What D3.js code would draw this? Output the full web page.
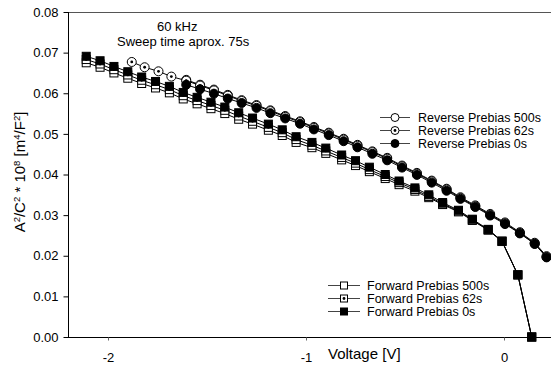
<!DOCTYPE html>
<html>
<head>
<meta charset="utf-8">
<script src="https://cdn.jsdelivr.net/npm/d3@7"></script>
<style>
  body { margin: 0; background: #fff; }
  svg { display: block; font-family: "Liberation Sans", Arial, sans-serif; }
</style>
</head>
<body>
<div id="chart"></div>
<script>
// Voltage sweep values
const forwardV = [-2.11, -2.04, -1.97, -1.90, -1.83, -1.76, -1.69, -1.62, -1.55, -1.48, -1.41, -1.34,
    -1.27, -1.19, -1.12, -1.05, -0.97, -0.90, -0.82, -0.75, -0.68, -0.60,
    -0.53, -0.45, -0.38, -0.31, -0.23, -0.16, -0.08, -0.01, 0.07, 0.14];
const forward500 = [0.0675, 0.0664, 0.0650, 0.0637, 0.0624, 0.0613, 0.0601, 0.0586, 0.0574, 0.0562, 0.0550, 0.0536,
    0.0524, 0.0509, 0.0496, 0.0479, 0.0466, 0.0452, 0.0436, 0.0422, 0.0407, 0.0390,
    0.0375, 0.0359, 0.0343, 0.0326, 0.0308, 0.0287, 0.0263, 0.0235, 0.0153, 0.0000];
const forward62 = [0.0683, 0.0672, 0.0658, 0.0645, 0.0632, 0.0621, 0.0609, 0.0594, 0.0582, 0.0570, 0.0558, 0.0544,
    0.0531, 0.0516, 0.0503, 0.0486, 0.0472, 0.0458, 0.0442, 0.0428, 0.0412, 0.0395,
    0.0380, 0.0363, 0.0346, 0.0328, 0.0310, 0.0288, 0.0264, 0.0236, 0.0153, 0.0000];
const forward0 = [0.0691, 0.0680, 0.0666, 0.0653, 0.0640, 0.0629, 0.0617, 0.0602, 0.0590, 0.0578, 0.0566, 0.0552,
    0.0539, 0.0524, 0.0510, 0.0493, 0.0479, 0.0465, 0.0448, 0.0434, 0.0418, 0.0400,
    0.0384, 0.0367, 0.0350, 0.0331, 0.0312, 0.0290, 0.0265, 0.0236, 0.0153, 0.0000];

const reverseV = [-1.88, -1.815, -1.745, -1.68, -1.605, -1.535, -1.465, -1.395,
    -1.325, -1.25, -1.18, -1.105, -1.03, -0.96, -0.885, -0.81, -0.74, -0.665, -0.59,
    -0.515, -0.44, -0.365, -0.29, -0.22, -0.145, -0.07, 0.005, 0.08, 0.155, 0.215];
const reverse500 = [null, null, null, null, 0.0633, 0.0621, 0.0609, 0.0596,
    0.0583, 0.0571, 0.0558, 0.0544, 0.0531, 0.0517, 0.0503, 0.0488, 0.0473, 0.0457, 0.0441,
    0.0422, 0.0404, 0.0385, 0.0365, 0.0344, 0.0324, 0.0303, 0.0282, 0.0258, 0.0232, 0.0199];
const reverse62 = [0.0677, 0.0664, 0.0654, 0.0641, 0.0631, 0.0619, 0.0607, 0.0594,
    0.0581, 0.0569, 0.0556, 0.0542, 0.0529, 0.0515, 0.0501, 0.0486, 0.0471, 0.0455, 0.0439,
    0.0420, 0.0402, 0.0383, 0.0363, 0.0342, 0.0322, 0.0301, 0.0280, 0.0256, 0.0230, 0.0197];
const reverse0 = [null, null, null, null, 0.0621, 0.0610, 0.0599, 0.0587,
    0.0576, 0.0564, 0.0551, 0.0538, 0.0525, 0.0511, 0.0497, 0.0482, 0.0467, 0.0451, 0.0435,
    0.0417, 0.0399, 0.0380, 0.0360, 0.0340, 0.0320, 0.0299, 0.0278, 0.0255, 0.0229, 0.0196];

const xTicks = [-2, -1, 0];
const yTicks = [0, 0.01, 0.02, 0.03, 0.04, 0.05, 0.06, 0.07, 0.08];

const W = 551, H = 369;
const plotLeft = 68, plotRight = 553, plotTop = 12, plotBottom = 337;

const svg = d3.select('#chart').append('svg')
    .attr('width', W)
    .attr('height', H);

const x = d3.scaleLinear().domain([-2, 0]).range([108, 504]);
const y = d3.scaleLinear().domain([0, 0.08]).range([plotBottom, plotTop]);

// top frame line
svg.append('line')
    .attr('x1', plotLeft).attr('x2', plotRight)
    .attr('y1', plotTop + 0.5).attr('y2', plotTop + 0.5)
    .style('stroke', '#555');

// axes
const yAxis = svg.append('g')
    .attr('transform', `translate(${plotLeft + 0.5},0)`)
    .call(d3.axisLeft(y).tickValues(yTicks).tickFormat(d3.format('.2f')).tickSize(5).tickPadding(5));
yAxis.select('.domain').attr('d', `M0,${plotTop}V${plotBottom + 0.5}`);

const xAxis = svg.append('g')
    .attr('transform', `translate(0,${plotBottom + 0.5})`)
    .call(d3.axisBottom(x).tickValues(xTicks).tickFormat(d => String(d)).tickSize(3).tickPadding(12));
xAxis.select('.domain').attr('d', `M${plotLeft},0H${plotRight}`);
xAxis.selectAll('.tick line').style('stroke', '#666');

svg.selectAll('.tick text')
    .style('font-size', '13px')
    .style('font-family', '"Liberation Sans", Arial, sans-serif')
    .attr('fill', '#000');

// axis titles
svg.append('text')
    .attr('x', 328).attr('y', 359)
    .style('font-size', '15px')
    .text('Voltage [V]');

const yt = svg.append('text')
    .attr('transform', 'translate(25,172) rotate(-90)')
    .attr('text-anchor', 'middle')
    .style('font-size', '15px');
const sup = (t) => yt.append('tspan').attr('baseline-shift', 'super').style('font-size', '9.5px').text(t);
yt.append('tspan').text('A');
sup('2');
yt.append('tspan').text('/C');
sup('2');
yt.append('tspan').text(' * 10');
sup('8');
yt.append('tspan').text(' [m');
sup('4');
yt.append('tspan').text('/F');
sup('2');
yt.append('tspan').text(']');

// annotation
svg.append('text').attr('x', 157).attr('y', 31).style('font-size', '13px').text('60 kHz');
svg.append('text').attr('x', 117).attr('y', 45.5).style('font-size', '13px').text('Sweep time aprox. 75s');

// series definitions
const series = [
    {v: forwardV, d: forward500, shape: 'square', fill: '#fff', dot: false},
    {v: forwardV, d: forward62, shape: 'square', fill: '#fff', dot: true},
    {v: forwardV, d: forward0, shape: 'square', fill: '#000', dot: false},
    {v: reverseV, d: reverse500, shape: 'circle', fill: '#fff', dot: false},
    {v: reverseV, d: reverse62, shape: 'circle', fill: '#fff', dot: true},
    {v: reverseV, d: reverse0, shape: 'circle', fill: '#000', dot: false}
];

const line = d3.line()
    .x(d => x(d.x))
    .y(d => y(d.y));

function drawMarker(g, s, cx, cy, size) {
    if (s.shape === 'square') {
        g.append('rect')
            .attr('x', cx - size).attr('y', cy - size)
            .attr('width', size * 2).attr('height', size * 2)
            .style('fill', s.fill).style('stroke', '#000').style('stroke-width', 1);
    } else {
        g.append('circle')
            .attr('cx', cx).attr('cy', cy).attr('r', size + 0.5)
            .style('fill', s.fill).style('stroke', '#000').style('stroke-width', 1);
    }
    if (s.dot) {
        g.append('circle').attr('cx', cx).attr('cy', cy).attr('r', 1.4).style('fill', '#000');
    }
}

const plot = svg.append('g');
series.forEach(s => {
    s.pts = s.v.map((v, i) => ({x: v, y: s.d[i]})).filter(p => p.y !== null);
});
series.forEach(s => {
    plot.append('path')
        .datum(s.pts)
        .attr('d', line)
        .style('fill', 'none')
        .style('stroke', '#000')
        .style('stroke-width', 1);
    const mg = plot.append('g');
    s.pts.forEach(p => drawMarker(mg, s, x(p.x), y(p.y), 4));
});

// legends
function legend(items, x0, x1, xm, xt, y0) {
    items.forEach((it, i) => {
        const yy = y0 + i * 13;
        const g = svg.append('g');
        g.append('line')
            .attr('x1', x0).attr('x2', x1)
            .attr('y1', yy + 0.5).attr('y2', yy + 0.5)
            .style('stroke', '#444');
        drawMarker(g, it.s, xm, yy + 0.5, 3.5);
        g.append('text')
            .attr('x', xt).attr('y', yy + 5)
            .style('font-size', '12.5px')
            .text(it.label);
    });
}

legend([
    {s: series[3], label: 'Reverse Prebias 500s'},
    {s: series[4], label: 'Reverse Prebias 62s'},
    {s: series[5], label: 'Reverse Prebias 0s'}
], 380, 410, 395, 418, 117);

legend([
    {s: series[0], label: 'Forward Prebias 500s'},
    {s: series[1], label: 'Forward Prebias 62s'},
    {s: series[2], label: 'Forward Prebias 0s'}
], 328, 360, 344, 367, 285);
</script>
</body>
</html>
